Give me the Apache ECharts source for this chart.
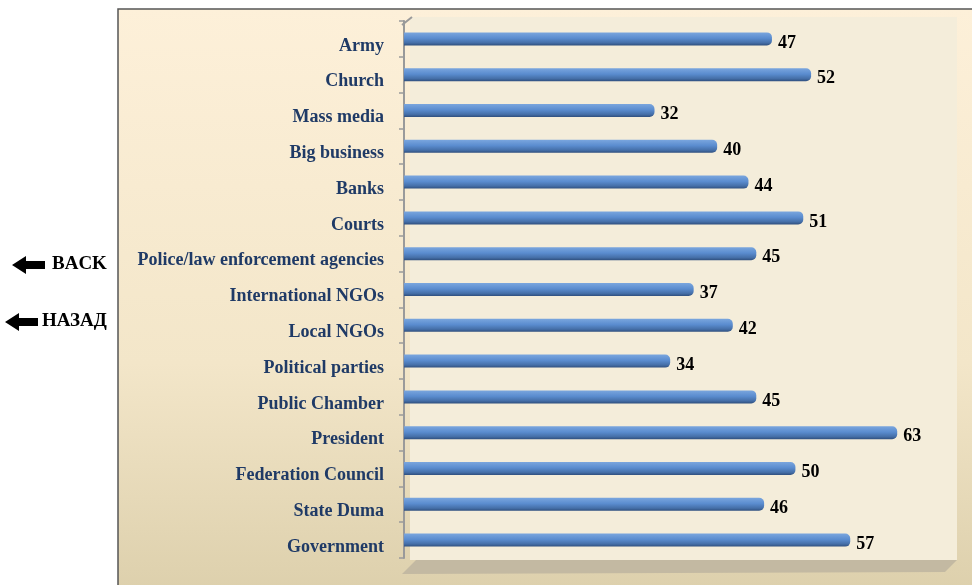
<!DOCTYPE html>
<html>
<head>
<meta charset="utf-8">
<script src="https://cdn.jsdelivr.net/npm/echarts@6/dist/echarts.min.js"></script>
<style>
  html, body { margin: 0; padding: 0; background: #fff; }
  #chart { width: 972px; height: 585px; }
</style>
</head>
<body>
<div id="chart"></div>
<script>
// institutions, top to bottom
const categories = [
  'Army', 'Church', 'Mass media', 'Big business', 'Banks', 'Courts',
  'Police/law enforcement agencies', 'International NGOs', 'Local NGOs',
  'Political parties', 'Public Chamber', 'President', 'Federation Council',
  'State Duma', 'Government'
]
const values = [47, 52, 32, 40, 44, 51, 45, 37, 42, 34, 45, 63, 50, 46, 57]
const navLabels = ['BACK', 'НАЗАД']

const chart = echarts.init(document.getElementById('chart'))

const barColor = new echarts.graphic.LinearGradient(0, 0, 0, 1, [
  { offset: 0, color: '#7aa6de' },
  { offset: 0.45, color: '#5a8ccf' },
  { offset: 0.8, color: '#456fa8' },
  { offset: 1, color: '#2f4f7e' }
])

// arrow pointing left
const arrow = (x, y) => ({
  type: 'polygon',
  shape: {
    points: [[x, y], [x + 14, y - 9], [x + 14, y - 4], [x + 33, y - 4],
             [x + 33, y + 4], [x + 14, y + 4], [x + 14, y + 9]]
  },
  style: { fill: '#000' }
})

const option = {
  animation: false,
  graphic: [
    {
      type: 'rect', z: -10,
      shape: { x: 118, y: 9, width: 870, height: 590 },
      style: {
        fill: new echarts.graphic.LinearGradient(0, 0, 0, 1, [
          { offset: 0, color: '#fdf0d9' },
          { offset: 0.6, color: '#f3e6c9' },
          { offset: 1, color: '#dccfab' }
        ]),
        stroke: '#555', lineWidth: 1.5
      }
    },
    {
      type: 'polygon', z: -9,
      shape: { points: [[402, 574], [416, 560], [957, 560], [945, 572], [402, 574]] },
      style: { fill: '#c3b9a2' }
    },
    {
      type: 'rect', z: -9,
      shape: { x: 410, y: 17, width: 547, height: 543 },
      style: { fill: '#f4edda' }
    },
    {
      type: 'polyline', z: -8,
      shape: { points: [[402, 25], [412, 17]] },
      style: { stroke: '#9a9a9a', lineWidth: 2 }
    },
    arrow(12, 265),
    {
      type: 'text', left: 52, top: 255,
      style: { text: navLabels[0], font: 'bold 19px "Liberation Serif"', fill: '#000' }
    },
    arrow(5, 322),
    {
      type: 'text', left: 42, top: 312,
      style: { text: navLabels[1], font: 'bold 19px "Liberation Serif"', fill: '#000' }
    }
  ],
  grid: { left: 404, right: 20, top: 21, bottom: 27, containLabel: false },
  xAxis: {
    type: 'value',
    min: 0,
    max: 70,
    show: false
  },
  yAxis: {
    type: 'category',
    data: categories,
    inverse: true,
    axisLine: { show: true, lineStyle: { color: '#9a9a9a', width: 2 } },
    axisTick: { show: true, length: 5, lineStyle: { color: '#9a9a9a', width: 1.5 } },
    axisLabel: {
      color: '#1f3a66',
      fontFamily: 'Liberation Serif',
      fontWeight: 'bold',
      fontSize: 18,
      margin: 20,
      lineHeight: 14,
      verticalAlign: 'top'
    }
  },
  series: [
    {
      type: 'bar',
      data: values,
      barWidth: 13,
      itemStyle: { color: barColor, borderRadius: [0, 5, 5, 0] },
      label: {
        show: true,
        position: 'right',
        distance: 6,
        offset: [0, 4],
        color: '#000',
        fontFamily: 'Liberation Serif',
        fontWeight: 'bold',
        fontSize: 18
      }
    }
  ]
}

chart.setOption(option)
</script>
</body>
</html>
